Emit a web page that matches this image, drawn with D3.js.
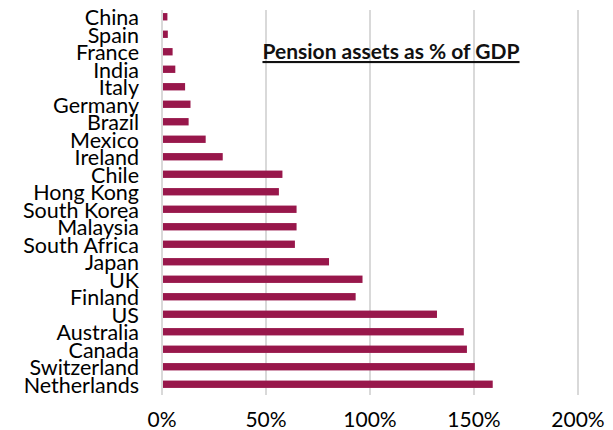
<!DOCTYPE html>
<html><head><meta charset="utf-8">
<script src="https://cdn.jsdelivr.net/npm/d3@7"></script>
<style>body{margin:0;background:#fff}svg{display:block}</style>
</head><body>
<svg id="c" width="613" height="430"></svg>
<script>
const countries = ["China","Spain","France","India","Italy","Germany","Brazil","Mexico","Ireland","Chile","Hong Kong","South Korea","Malaysia","South Africa","Japan","UK","Finland","US","Australia","Canada","Switzerland","Netherlands"];
const values = [2.6,2.8,5.1,6.4,11.1,13.7,12.8,21,29.2,57.9,56.2,64.7,64.7,63.9,80.3,96.4,93.1,132.2,145.1,146.6,150.4,159];
const ticks = [0,50,100,150,200];
const title = "Pension assets as % of GDP";

const svg = d3.select("#c");
const x = d3.scaleLinear().domain([0,200]).range([162,578]);
const y = d3.scaleBand().domain(countries).range([8,393]).paddingInner(0.58).paddingOuter(0.29);

svg.append("g").selectAll("line").data(ticks).join("line")
  .attr("x1",d=>x(d)).attr("x2",d=>x(d)).attr("y1",10).attr("y2",395)
  .attr("stroke","#d9d9d9").attr("stroke-width",2);

svg.append("g").selectAll("rect").data(countries).join("rect")
  .attr("x",x(0)+1).attr("y",d=>y(d)).attr("height",y.bandwidth())
  .attr("width",(d,i)=>x(values[i])-x(0)-1).attr("fill","#98174b");

svg.append("g").selectAll("text").data(countries).join("text")
  .attr("x",139).attr("y",d=>y(d)+y.bandwidth()/2).attr("dy","0.4em")
  .attr("text-anchor","end").attr("font-family","Lato, sans-serif").attr("font-size",21.5)
  .attr("fill","#000").text(d=>d);

svg.append("g").selectAll("text").data(ticks).join("text")
  .attr("x",d=>x(d)).attr("y",427).attr("text-anchor","middle")
  .attr("font-family","Lato, sans-serif").attr("font-size",21).attr("fill","#000")
  .text(d=>d3.format(".0%")(d/100));

svg.append("text").attr("x",391).attr("y",59).attr("text-anchor","middle")
  .attr("font-family","Lato, sans-serif").attr("font-weight","bold").attr("font-size",21)
  .attr("text-decoration","underline").attr("fill","#111").text(title);
</script>
</body></html>
